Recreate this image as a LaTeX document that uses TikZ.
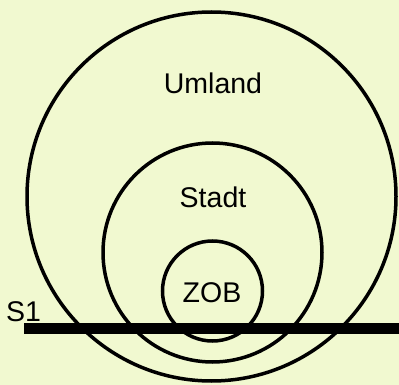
\documentclass[tikz,border=0pt]{standalone}
\usepackage{fontspec}
\setmainfont{Liberation Sans}
\definecolor{bg}{RGB}{241,249,208}
\begin{document}
\begin{tikzpicture}[x=1pt,y=-1pt,
  ring/.style={circle,draw=black,line width=3.5pt,inner sep=0pt},
  lbl/.style={anchor=base,inner sep=0pt,font=\fontsize{28.5}{32}\selectfont}]
\fill[bg] (0,0) rectangle (399,385);
\useasboundingbox (0,0) rectangle (399,385);
\node[ring,minimum size=369pt] (umland) at (211.5,196.5) {};
\node[ring,minimum size=219pt] (stadt) at (212.5,252.5) {};
\node[ring,minimum size=100pt] (zob) at (212.5,291) {};
\node[lbl] (tumland) at (213,94) {Umland};
\node[lbl] (tstadt) at (213,207) {Stadt};
\node[lbl] (tzob) at (212,302) {ZOB};
\node[lbl,anchor=base west] (ts1) at (6,321) {S1};
\coordinate (s1a) at (24,328.5);
\coordinate (s1b) at (399,328.5);
\draw[line width=11pt] (s1a) -- (s1b);
\end{tikzpicture}
\end{document}
